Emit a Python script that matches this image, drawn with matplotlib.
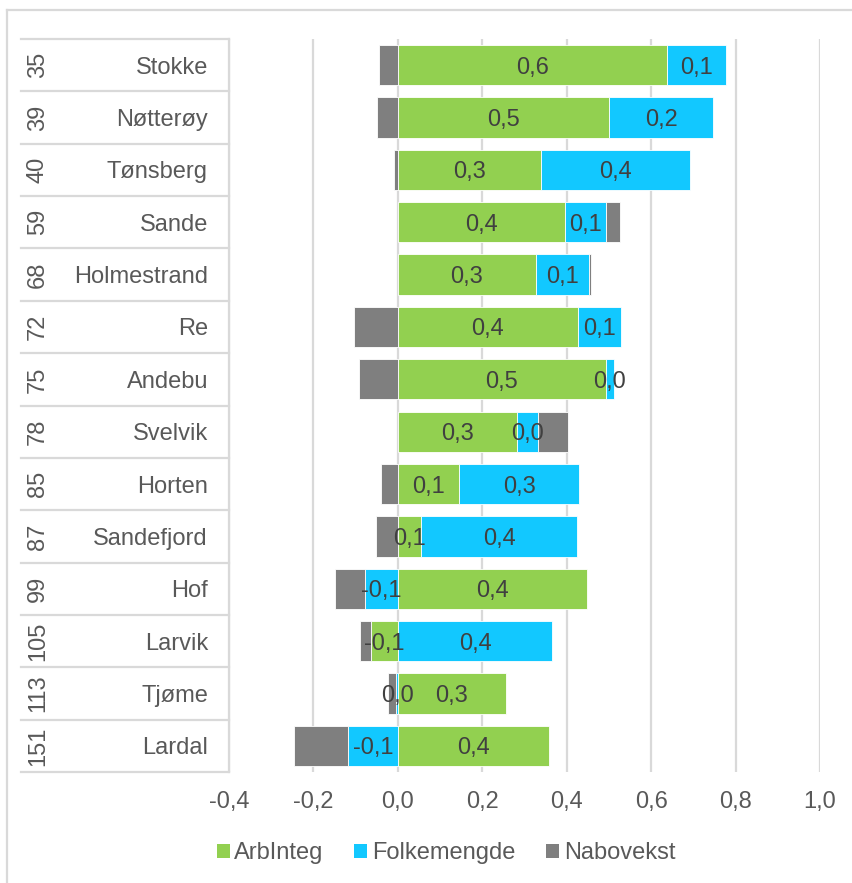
import matplotlib
matplotlib.use("Agg")
import matplotlib.pyplot as plt
from matplotlib.lines import Line2D
from matplotlib.transforms import blended_transform_factory
import numpy as np

plt.rcParams['font.family'] = ['Liberation Sans', 'DejaVu Sans']

ranks = ["35", "39", "40", "59", "68", "72", "75", "78", "85", "87", "99", "105", "113", "151"]
names = ["Stokke", "Nøtterøy", "Tønsberg", "Sande", "Holmestrand", "Re", "Andebu",
         "Svelvik", "Horten", "Sandefjord", "Hof", "Larvik", "Tjøme", "Lardal"]
arbinteg = [0.638, 0.501, 0.338, 0.397, 0.327, 0.427, 0.493, 0.283, 0.146, 0.056, 0.447, -0.063, 0.256, 0.359]
folkemengde = [0.140, 0.246, 0.355, 0.095, 0.125, 0.101, 0.018, 0.049, 0.282, 0.369, -0.078, 0.366, -0.004, -0.117]
nabovekst = [-0.045, -0.050, -0.009, 0.034, 0.006, -0.105, -0.093, 0.072, -0.040, -0.052, -0.070, -0.027, -0.019, -0.129]
series_names = ["ArbInteg", "Folkemengde", "Nabovekst"]
colors = ["#92D050", "#12C8FF", "#7F7F7F"]
label_series = [True, True, False]
xticks = [-0.4, -0.2, 0.0, 0.2, 0.4, 0.6, 0.8, 1.0]

W, H = 853, 883
fig = plt.figure(figsize=(W / 100, H / 100), dpi=100)
L, R, T, B = 229, 820, 39, 772
ax = fig.add_axes([L / W, 1 - B / H, (R - L) / W, (B - T) / H])

n = len(names)
y = np.arange(n)
pos = np.zeros(n)
neg = np.zeros(n)
FS = 17
for vals, name, col, lab in zip([arbinteg, folkemengde, nabovekst], series_names, colors, label_series):
    v = np.array(vals)
    left = np.where(v >= 0, pos, neg)
    ax.barh(y, v, left=left, height=0.77, color=col, edgecolor="white",
            linewidth=0.6, label=name, zorder=3)
    pos = np.where(v >= 0, pos + v, pos)
    neg = np.where(v < 0, neg + v, neg)
    if lab:
        for yi, li, vi in zip(y, left, v):
            txt = f"{round(vi, 1) + 0.0:.1f}".replace(".", ",")
            ax.text(li + vi / 2, yi, txt, ha="center", va="center_baseline",
                    fontsize=FS, color="#404040", zorder=5)

ax.set_xlim(-0.4, 1.0)
ax.set_ylim(n - 0.5, -0.5)
ax.set_xticks(xticks)
ax.set_xticklabels([f"{t:.1f}".replace(".", ",") for t in xticks])
ax.tick_params(axis="x", length=0, pad=14, labelsize=FS, labelcolor="#595959")
ax.set_yticks([])
ax.grid(axis="x", color="#D9D9D9", linewidth=1.6, zorder=0)
ax.set_axisbelow(True)
for s in ["top", "right", "bottom"]:
    ax.spines[s].set_visible(False)
ax.spines["left"].set_color("#D9D9D9")
ax.spines["left"].set_linewidth(1.6)

# category table
tr = blended_transform_factory(fig.transFigure, ax.transData)
for k in range(n + 1):
    yy = k - 0.5
    fig.add_artist(Line2D([21 / W, L / W], [yy, yy], transform=tr, color="#D9D9D9",
                          linewidth=1.6, clip_on=False))
for i in range(n):
    t1 = fig.text(0, 0, ranks[i], transform=tr, rotation=90, ha="center", va="center",
                  fontsize=FS, color="#595959")
    t1.set_position((38 / W, y[i]))
    t2 = fig.text(0, 0, names[i], transform=tr, ha="right", va="center_baseline",
                  fontsize=FS, color="#595959")
    t2.set_position((208 / W, y[i]))

# outer border
fig.add_artist(Line2D([7.5 / W, 7.5 / W], [1 - 9.5 / H, 0], transform=fig.transFigure,
                      color="#D9D9D9", linewidth=1.6))
fig.add_artist(Line2D([7.5 / W, 1], [1 - 9.5 / H, 1 - 9.5 / H], transform=fig.transFigure,
                      color="#D9D9D9", linewidth=1.6))

leg = fig.legend(loc="center", bbox_to_anchor=(446 / W, 1 - 853 / H), ncol=3, frameon=False,
                 fontsize=FS, handlelength=0.55, handleheight=0.55, handletextpad=0.2,
                 columnspacing=1.3, borderaxespad=0)
for t in leg.get_texts():
    t.set_color("#595959")
for h in leg.legend_handles:
    h.set_edgecolor("none")

fig.savefig("out.png", dpi=100)
